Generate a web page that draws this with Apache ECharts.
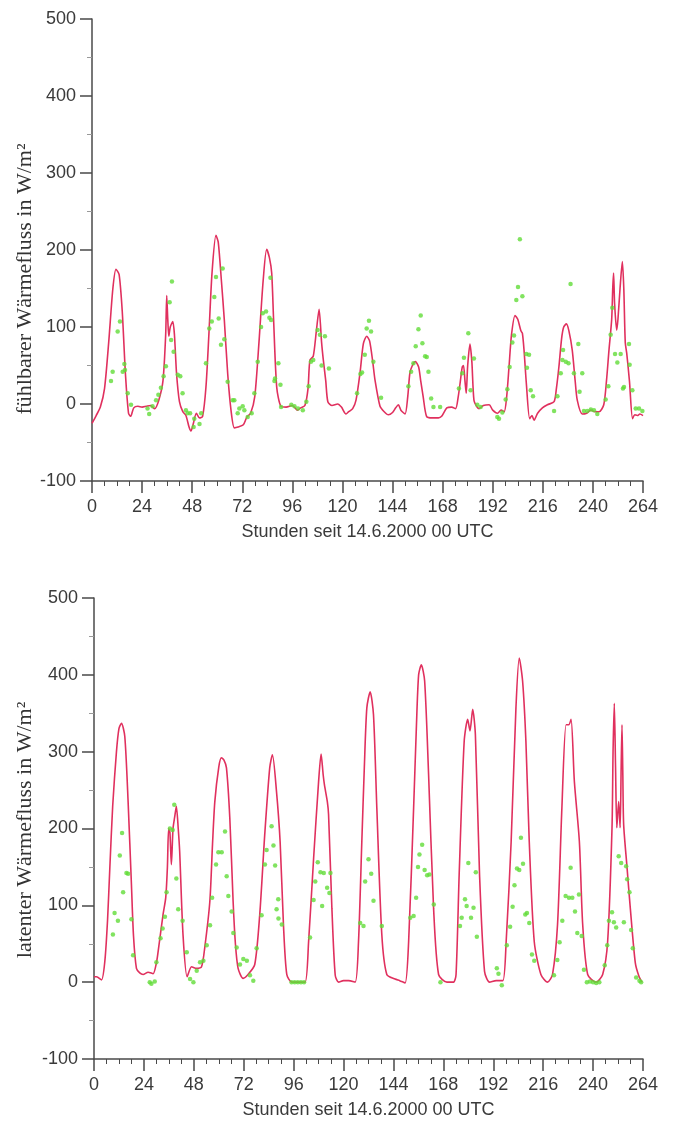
<!DOCTYPE html>
<html><head><meta charset="utf-8">
<script src="https://cdn.jsdelivr.net/npm/echarts@6/dist/echarts.min.js"></script>
<style>html,body{margin:0;padding:0;background:#fff}#c{width:675px;height:1122px}</style>
</head><body><div id="c"></div>
<script>
// Axis settings (hours since 14.6.2000 00 UTC; W/m²)
const xMin = 0, xMax = 264, xStep = 24;
const yMin = -100, yMax = 500, yStep = 100;
const xTitle = 'Stunden seit 14.6.2000 00 UTC';
const yTitleTop = 'fühlbarer Wärmefluss in W/m²';
const yTitleBottom = 'latenter Wärmefluss in W/m²';

// Sensible heat flux: model (line) [hour, value]
const sensModel = [[0,-25],[2,-15],[4,-4],[6,20],[8,80],[10,150],[11.5,175],[13,168],[14.5,120],[16,40],[17.5,-12],[18.5,-16],[20,-5],[22,-3],[24,-4],[26,-3],[28,-2],[30,-6],[32,5],[34,30],[35.3,90],[35.8,141],[36.3,110],[36.8,88],[37.5,100],[38.7,107],[39.5,90],[40.5,40],[41.9,3],[43.5,-10],[45,-15],[46.5,-30],[47.4,-35],[48.5,-26],[50,-12],[51.5,-18],[53,-16],[54.6,22],[56,90],[57.5,170],[59.4,219],[60.5,210],[62,160],[63.4,109],[65,40],[66.6,-8],[68.2,-31],[70,-30],[72.5,-27],[74.2,-17],[76,-12],[78,10],[80,80],[82,160],[83.7,201],[85,190],[86.1,170],[87,110],[88.5,22],[90.5,-3],[93,-4],[96,-2],[98.5,-8],[100,-5],[102,-2],[103.5,20],[104.4,57],[106,62],[107.5,95],[108.8,123],[110,80],[110.8,58],[112,30],[113,3],[115,-2],[117.7,0],[119.5,-4],[121.7,-13],[123,-10],[124.9,-6],[126.5,5],[128.4,40],[130,78],[131.6,88],[133,82],[134.5,55],[135.6,31],[138,-3],[140,-10],[142,-14],[144,-11],[145.5,-5],[146.8,-1],[148,-8],[150,-13],[151.3,10],[152.3,40],[153.5,50],[155,55],[156.5,48],[157.5,30],[158.7,9],[160.3,-16],[163,-18],[166,-18],[167.5,-16],[170,-5],[172.3,-4],[174.2,-6],[175.5,10],[176.5,30],[177.4,48],[178,50],[178.7,30],[179.3,14],[180,50],[181.1,78],[182,55],[183,5],[184.5,-4],[185.5,-6],[187.5,-2],[190.3,-1],[192,-8],[194.3,-12],[196,-8],[197.5,-10],[198.7,10],[199.8,48],[201,90],[202.7,115],[204,110],[205.5,95],[206.2,92],[207,70],[208.1,27],[209.7,-19],[210.8,-15],[211.8,-21],[213.5,-12],[215.8,-5],[218.2,-1],[221.4,3],[222.5,20],[223.7,48],[225,85],[226,100],[227.3,104],[228.5,95],[230.1,70],[231.5,30],[232.5,5],[234.9,-13],[237,-12],[239,-8],[241,-10],[243,-10],[245.2,-1],[246.5,30],[247.7,70],[249,110],[249.5,150],[249.9,170],[250.4,130],[251.4,96],[252,110],[253,150],[254.1,185],[254.8,150],[255.5,80],[256.2,66],[257.5,30],[259,-19],[260,-14],[261.3,-15],[262.5,-13],[264,-15]];

// Sensible heat flux: observations (dots) [hour, value]
const sensObs = [[9.1,30],[9.9,42],[12.3,94],[13.4,107],[14.7,42],[15.5,52],[15.8,44],[17.1,14],[18.7,-1],[26.6,-6],[27.4,-13],[29,-3],[30.7,5],[31.8,12],[33,21],[34.3,36],[35.4,49],[37.2,132],[37.9,83],[38.3,159],[39.1,68],[41.1,38],[42.3,36],[43.4,14],[45,-8],[45.8,-12],[47,-12],[48.7,-30],[49,-19],[51.5,-26],[52.3,-12],[54.6,53],[56.2,98],[57.4,107],[58.6,139],[59.4,165],[60.7,111],[61.8,77],[62.6,176],[63.4,84],[65,29],[67.4,5],[68.2,5],[69.8,-12],[70.6,-6],[72.2,-3],[73,-8],[74.6,-17],[76.5,-12],[77.8,14],[79.4,55],[81,100],[81.8,118],[83.4,120],[85,112],[85.5,164],[85.8,109],[87.4,30],[87.7,33],[89.3,53],[90.3,25],[90.6,-4],[95.5,-1],[97,-3],[98.7,-6],[101,-8],[102.7,3],[103.8,23],[104.9,55],[106,57],[108.1,96],[109.2,90],[110,50],[111.6,88],[113.5,46],[127,14],[128.6,39],[129.4,41],[130.7,64],[131.6,98],[132.7,108],[133.7,94],[134.8,55],[138.5,8],[151.6,23],[152.9,42],[154,53],[155.1,75],[156.4,97],[157.5,115],[158.3,79],[159.6,62],[160.4,61],[161.2,42],[162.5,7],[163.6,-4],[166.8,-4],[175.8,20],[177.4,40],[178.2,60],[180.3,92],[181.4,18],[183,59],[184.6,-1],[186.2,-4],[194.2,-17],[195,-19],[196.6,-11],[198.2,6],[199,19],[200.1,48],[201.4,80],[202.2,89],[203.3,135],[204.1,152],[205,214],[206.2,140],[208.1,65],[208.4,47],[209.4,64],[210.2,18],[211.3,10],[221.4,-9],[223,10],[224.6,40],[225.4,57],[225.7,70],[227,55],[228.3,53],[229.3,156],[230.9,40],[233,78],[233.6,16],[234.9,40],[235.7,-9],[237.3,-9],[239,-7],[240.5,-8],[242.1,-13],[246.1,6],[247.4,23],[248.5,90],[249.3,125],[250.6,65],[251.7,54],[253.3,65],[254.4,20],[254.9,22],[257.3,78],[257.6,51],[258.9,18],[260.5,-6],[262.1,-6],[263.7,-9]];

// Latent heat flux: model (line) [hour, value]
const latModel = [[0,7],[1.2,7],[3.6,3],[5.2,27],[6.5,80],[7.6,148],[9,230],[10.8,300],[12,330],[13.2,337],[14.8,320],[16.4,235],[18,127],[19,60],[20.4,18],[22,12],[23.6,10],[26,13],[28.4,11],[30,25],[30.8,39],[33.2,88],[34.5,110],[35.3,150],[35.9,200],[36.5,195],[37.2,153],[38,200],[38.8,215],[39.6,229],[40.5,200],[41.2,170],[42.8,62],[44.8,7],[46.9,20],[49.3,18],[51.7,20],[53.3,46],[55.7,105],[57,180],[58.1,235],[60,280],[61.3,292],[62.5,289],[63.7,279],[65.3,214],[66.9,105],[68,50],[69.3,18],[71.7,5],[74.1,10],[77.3,23],[79.7,88],[82.1,192],[84.5,279],[85.8,296],[87.7,250],[89.5,183],[91.1,75],[92.7,10],[95.1,0],[98,0],[101.5,0],[103.2,53],[105.6,161],[108,261],[109.2,297],[110.2,270],[110.8,257],[112.2,235],[112.8,218],[114.4,96],[116,9],[117.6,0],[120,2],[122.4,2],[125.6,0],[127.2,53],[128.8,184],[130,280],[131.2,357],[132.8,378],[134.4,348],[136,227],[138.4,62],[140.8,10],[144.8,4],[147,2],[149.6,-1],[151.3,53],[153.7,227],[155,330],[156.1,400],[157.4,413],[159,392],[160.9,270],[163.3,96],[165.7,10],[169.7,0],[172.9,0],[174.1,10],[175.6,140],[178,313],[179.7,342],[180.8,327],[182.1,355],[183.4,322],[185.4,140],[187.8,14],[190.2,0],[193.4,2],[196.6,2],[198.2,53],[200.6,183],[202.9,357],[204.5,422],[206.1,392],[207.7,313],[209.3,183],[211.7,53],[214.9,10],[218.1,0],[220.5,10],[222.9,75],[225,227],[227,335],[228.3,335],[229.4,342],[231,261],[233.4,183],[235,75],[237.4,10],[241.4,0],[244.6,10],[247,53],[249.1,201],[249.6,300],[250.2,363],[250.8,280],[251.4,201],[252.3,235],[253,201],[253.5,280],[253.9,335],[254.3,270],[254.7,205],[256.3,150],[257.9,96],[260.3,25],[262,8],[263.5,0]];

// Latent heat flux: observations (dots) [hour, value]
const latObs = [[9.1,62],[9.9,90],[11.5,80],[12.4,165],[13.5,194],[14,117],[15.6,142],[16.4,141],[18,82],[18.8,35],[26.8,0],[27.6,-2],[29.2,1],[30,26],[32,57],[33,70],[34.1,85],[34.9,117],[36.5,200],[37.8,198],[38.6,231],[39.6,135],[40.5,95],[42.6,80],[44.6,39],[46.2,4],[47.8,0],[49.4,15],[51,26],[52.6,28],[54.2,48],[55.8,74],[56.8,110],[58.7,153],[59.8,169],[61.4,169],[63,196],[63.8,138],[64.6,112],[66.2,92],[67,64],[68.6,45],[70.2,23],[71.8,30],[73.5,28],[75,9],[76.6,2],[78.2,44],[80.6,87],[82.2,153],[83,172],[85.4,203],[86.3,178],[87.1,152],[87.8,95],[88.6,108],[88.7,83],[90.3,75],[95,0],[96.5,0],[98,0],[99.5,0],[101,0],[103.9,58],[105.6,107],[106.4,131],[107.6,156],[108.9,143],[109.7,99],[110.5,142],[112.1,123],[113.2,116],[113.7,142],[128,77],[129.6,73],[130.4,131],[132,160],[133.3,141],[134.4,106],[138.4,73],[152.1,84],[153.7,86],[154.9,110],[155.8,150],[156.5,166],[157.8,179],[159,146],[160.2,139],[161.3,140],[163.4,101],[166.6,0],[176,73],[176.8,84],[178.4,108],[179.2,99],[180,155],[181.3,84],[182.5,97],[183.6,143],[184.1,59],[193.7,18],[194.5,11],[196.1,-4],[198.5,48],[200.1,72],[201.3,98],[202.2,126],[203.4,148],[204.5,146],[205.3,188],[206.3,154],[207.4,88],[208.2,90],[209.3,77],[210.6,36],[211.7,28],[221.2,9],[222.8,29],[223.9,52],[225.2,80],[226.8,112],[228.4,110],[229.2,149],[230,110],[231.3,92],[232.4,64],[233.2,114],[234.5,60],[235.6,16],[237,0],[238.5,1],[240,0],[241.5,-1],[243,0],[245.6,22],[246.8,48],[247.6,80],[249.1,91],[250,78],[251.1,71],[252.3,164],[253.5,155],[254.8,78],[255.9,151],[256.4,134],[257.5,117],[258.3,68],[259.1,44],[260.7,6],[262.3,2],[263.1,0]];

const axisColor = '#4a4a4a';
const labelFont = {fontFamily: 'Liberation Sans', fontSize: 18, color: '#3a3a3a'};
const lineColor = '#e0305e';
const dotColor = '#62dc38';

function xAx(gi) {
  return {
    type: 'value', gridIndex: gi, min: xMin, max: xMax, interval: xStep,
    name: xTitle, nameLocation: 'middle', nameGap: 42,
    nameTextStyle: {fontFamily: 'Liberation Sans', fontSize: 18, color: '#3a3a3a'},
    axisLine: {onZero: false, lineStyle: {color: axisColor, width: 1.5}},
    axisTick: {length: 12, lineStyle: {color: axisColor, width: 1.5}},
    minorTick: {show: true, splitNumber: 4, length: 5, lineStyle: {color: axisColor, width: 1}},
    axisLabel: Object.assign({margin: 17}, labelFont),
    splitLine: {show: false}
  };
}
function yAx(gi) {
  return {
    type: 'value', gridIndex: gi, min: yMin, max: yMax, interval: yStep,
    axisLine: {show: true, lineStyle: {color: axisColor, width: 1.5}},
    axisTick: {show: true, length: 12, lineStyle: {color: axisColor, width: 1.5}},
    minorTick: {show: true, splitNumber: 2, length: 5, lineStyle: {color: '#999', width: 1}},
    axisLabel: Object.assign({margin: 16}, labelFont),
    splitLine: {show: false}
  };
}
const chart = echarts.init(document.getElementById('c'), null, {renderer: 'canvas'});
chart.setOption({
  animation: false,
  backgroundColor: '#fff',
  grid: [
    {left: 92, top: 19, width: 551, height: 462},
    {left: 94, top: 598, width: 549, height: 461}
  ],
  xAxis: [xAx(0), xAx(1)],
  yAxis: [yAx(0), yAx(1)],
  graphic: [
    {type: 'text', x: 25, y: 279, rotation: Math.PI / 2,
     style: {text: yTitleTop, font: '22px "Liberation Serif"', fill: '#333', align: 'center', verticalAlign: 'middle'}},
    {type: 'text', x: 25, y: 830, rotation: Math.PI / 2,
     style: {text: yTitleBottom, font: '22px "Liberation Serif"', fill: '#333', align: 'center', verticalAlign: 'middle'}}
  ],
  series: [
    {type: 'line', xAxisIndex: 0, yAxisIndex: 0, data: sensModel, showSymbol: false, smooth: 0.25,
     lineStyle: {color: lineColor, width: 1.6}, z: 2},
    {type: 'scatter', xAxisIndex: 0, yAxisIndex: 0, data: sensObs, symbolSize: 4.5,
     itemStyle: {color: dotColor}, z: 3},
    {type: 'line', xAxisIndex: 1, yAxisIndex: 1, data: latModel, showSymbol: false, smooth: 0.25,
     lineStyle: {color: lineColor, width: 1.6}, z: 2},
    {type: 'scatter', xAxisIndex: 1, yAxisIndex: 1, data: latObs, symbolSize: 4.5,
     itemStyle: {color: dotColor}, z: 3}
  ]
});
</script>
</body></html>
